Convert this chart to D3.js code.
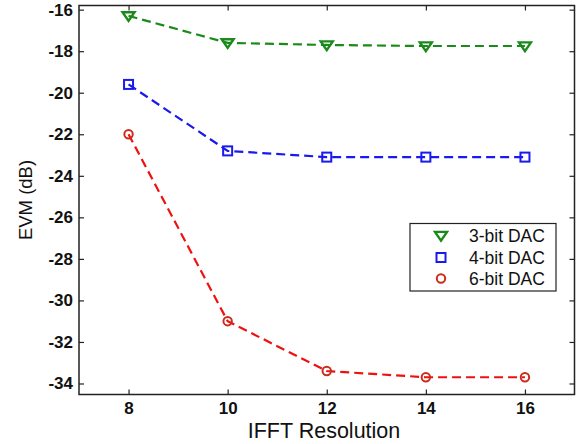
<!DOCTYPE html>
<html><head><meta charset="utf-8">
<script src="https://cdn.jsdelivr.net/npm/d3@7"></script>
<style>
html,body{margin:0;padding:0;background:#fff;}
svg{display:block;}
text{font-family:"Liberation Sans",Arial,Helvetica,sans-serif;fill:#111;}
</style></head>
<body>
<script>
const resolutions = [8, 10, 12, 14, 16];
const evm3bit = [-16.3, -17.6, -17.7, -17.75, -17.75];
const evm4bit = [-19.6, -22.8, -23.1, -23.1, -23.1];
const evm6bit = [-22.0, -31.0, -33.4, -33.7, -33.7];
const seriesNames = ["3-bit DAC", "4-bit DAC", "6-bit DAC"];
const xTicks = [8, 10, 12, 14, 16];
const yTicks = [-16, -18, -20, -22, -24, -26, -28, -30, -32, -34];
const xLabel = "IFFT Resolution";
const yLabel = "EVM (dB)";

const W = 583, H = 444;
const L = 79, R = 574.5, T = 5.5, B = 394.5;

const svg = d3.select("body").append("svg").attr("width", W).attr("height", H);
const x = d3.scaleLinear().domain([7, 17]).range([L, R]);
const y = d3.scaleLinear().domain([-34.53, -15.8]).range([B, T]);

const axisColor = "#222";
const tickSize = 5;
const gx = svg.append("g").attr("transform", `translate(0,${B})`)
  .call(d3.axisBottom(x).tickValues(xTicks).tickSize(-tickSize).tickPadding(7).tickFormat(d3.format("d")));
const gxTop = svg.append("g").attr("transform", `translate(0,${T})`)
  .call(d3.axisTop(x).tickValues(xTicks).tickSize(-tickSize).tickFormat(""));
const gy = svg.append("g").attr("transform", `translate(${L},0)`)
  .call(d3.axisLeft(y).tickValues(yTicks).tickSize(-tickSize).tickPadding(6).tickFormat(d => String(d)));
const gyR = svg.append("g").attr("transform", `translate(${R},0)`)
  .call(d3.axisRight(y).tickValues(yTicks).tickSize(-tickSize).tickFormat(""));
[gx, gxTop, gy, gyR].forEach(g => {
  g.select(".domain").remove();
  g.selectAll(".tick line").attr("stroke", axisColor).attr("stroke-width", 1.2);
  g.selectAll("text").style("font-size", "17px").style("font-weight", "bold").attr("fill", "#111");
});
svg.append("rect").attr("x", L).attr("y", T).attr("width", R - L).attr("height", B - T)
  .attr("fill", "none").attr("stroke", axisColor).attr("stroke-width", 1.5);

svg.append("text").attr("x", 324).attr("y", 438).attr("text-anchor", "middle")
  .style("font-size", "21.5px").text(xLabel);
svg.append("text").attr("transform", `translate(32,${(T + B) / 2}) rotate(-90)`).attr("text-anchor", "middle")
  .style("font-size", "18.5px").text(yLabel);

const series = [
  {name: seriesNames[0], values: evm3bit, line: "#1a8a1a", mark: "#1a8a1a", shape: "tri"},
  {name: seriesNames[1], values: evm4bit, line: "#1a1aee", mark: "#1a1aee", shape: "sq"},
  {name: seriesNames[2], values: evm6bit, line: "#ee1111", mark: "#cc2a1a", shape: "circ"}
];

function drawMarker(g, shape, cx, cy, color) {
  if (shape === "tri") {
    const s = 6;
    g.append("path").attr("d", `M${cx - s},${cy - s * 0.6} L${cx + s},${cy - s * 0.6} L${cx},${cy + s * 0.85} Z`)
      .attr("fill", "none").attr("stroke", color).attr("stroke-width", 2.4);
  } else if (shape === "sq") {
    g.append("rect").attr("x", cx - 4.5).attr("y", cy - 4.5).attr("width", 9).attr("height", 9)
      .attr("fill", "none").attr("stroke", color).attr("stroke-width", 2);
  } else {
    g.append("circle").attr("cx", cx).attr("cy", cy).attr("r", 4.2)
      .attr("fill", "none").attr("stroke", color).attr("stroke-width", 2);
  }
}

const line = d3.line().x((d, i) => x(resolutions[i])).y(d => y(d));
series.forEach(s => {
  svg.append("path").datum(s.values).attr("d", line)
    .attr("fill", "none").attr("stroke", s.line).attr("stroke-width", 2.2)
    .attr("stroke-dasharray", "9,5");
  const g = svg.append("g");
  s.values.forEach((v, i) => drawMarker(g, s.shape, x(resolutions[i]), y(v), s.mark));
});

const lg = svg.append("g");
lg.append("rect").attr("x", 410).attr("y", 223.5).attr("width", 146).attr("height", 67.5)
  .attr("fill", "#fff").attr("stroke", axisColor).attr("stroke-width", 1.2);
const rowsY = [235.5, 257.5, 278.5];
series.forEach((s, i) => {
  drawMarker(lg, s.shape, 441, rowsY[i], s.mark);
  lg.append("text").attr("x", 469).attr("y", rowsY[i] + 6).style("font-size", "17.5px").text(s.name);
});
</script>
</body></html>
